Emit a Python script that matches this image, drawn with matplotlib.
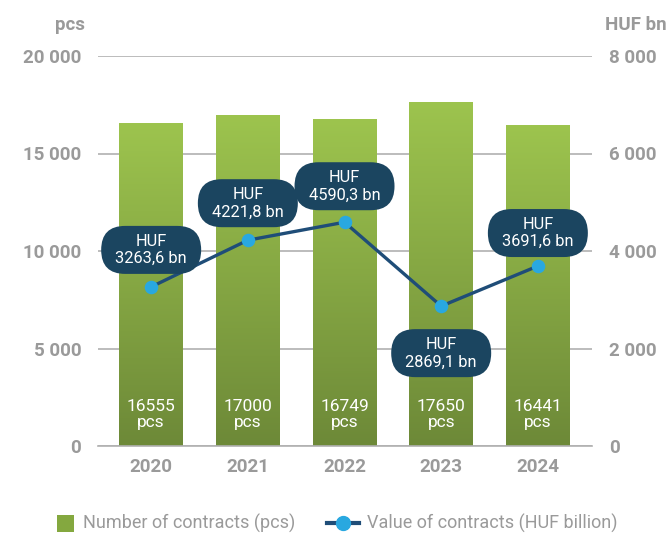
import matplotlib
matplotlib.use("Agg")
import matplotlib.pyplot as plt
import numpy as np
from matplotlib.colors import LinearSegmentedColormap
from matplotlib.patches import Rectangle, FancyBboxPatch
from matplotlib.lines import Line2D
from matplotlib.transforms import ScaledTranslation

plt.rcParams['font.family'] = ['Roboto', 'DejaVu Sans']

years = ["2020", "2021", "2022", "2023", "2024"]
contracts = [16555, 17000, 16749, 17650, 16441]
values = [3263.6, 4221.8, 4590.3, 2869.1, 3691.6]
value_labels = ["HUF\n3263,6 bn", "HUF\n4221,8 bn", "HUF\n4590,3 bn", "HUF\n2869,1 bn", "HUF\n3691,6 bn"]
left_ticks = [0, 5000, 10000, 15000, 20000]
left_ticklabels = ["0", "5 000", "10 000", "15 000", "20 000"]
right_ticks = [0, 2000, 4000, 6000, 8000]
right_ticklabels = ["0", "2 000", "4 000", "6 000", "8 000"]

gray = "#9a9a9a"
navy = "#1b4560"
line_col = "#1f4d78"
dot_col = "#29a8e0"

W, H = 667, 534
fig = plt.figure(figsize=(6.67, 5.34), dpi=100)
ax = fig.add_axes([98 / W, 88 / H, (592 - 98) / W, (446 - 56) / H])
ax2 = ax.twinx()

x = np.arange(len(years))
bw = 0.66

cmap = LinearSegmentedColormap.from_list("g", ["#6d8938", "#9dc44e"])
grad = np.linspace(0, 1, 256).reshape(-1, 1)
for xi, h in zip(x, contracts):
    im = ax.imshow(grad, extent=(xi - bw / 2, xi + bw / 2, 0, h), origin="lower",
                   cmap=cmap, aspect="auto", zorder=2)
    rect = Rectangle((xi - bw / 2, 0), bw, h, transform=ax.transData, facecolor="none", edgecolor="none")
    ax.add_patch(rect)
    im.set_clip_path(rect)
    ax.text(xi, 1600, f"{h}\npcs", ha="center", va="center", color="white",
            fontsize=12.5, linespacing=1.1, zorder=3)
ax.set_xlim(-0.55, 4.56)
ax.set_ylim(0, 20000)
ax2.set_ylim(0, 8000)

ax.set_yticks(left_ticks)
ax.set_yticklabels(left_ticklabels)
ax.grid(axis="y", color="#b0b0b0", linewidth=1.2, zorder=0)
ax.set_axisbelow(True)
ax.set_xticks(x)
ax.set_xticklabels(years)
for a in (ax, ax2):
    for s in a.spines.values():
        s.set_visible(False)
ax.spines["bottom"].set_visible(True)
ax.spines["bottom"].set_color("#b0b0b0")
ax.spines["bottom"].set_linewidth(1.2)
ax.tick_params(axis="y", length=0, labelsize=13.5, labelcolor=gray, pad=12)
ax.tick_params(axis="x", length=0, labelsize=13.5, labelcolor=gray, pad=9)
for t in ax.get_yticklabels() + ax.get_xticklabels():
    t.set_fontweight("bold")

ax2.set_yticks(right_ticks)
ax2.set_yticklabels(right_ticklabels)
ax2.tick_params(axis="y", length=0, labelsize=13.5, labelcolor=gray, pad=12)
for t in ax2.get_yticklabels():
    t.set_fontweight("bold")

ax2.plot(x, values, color=line_col, linewidth=2.4, zorder=4)
ax2.scatter(x, values, s=95, color=dot_col, zorder=5, linewidths=0)

# pill-shaped labels (offsets in pixels above the point; negative = below)
offsets = [37, 37, 36, -47, 33]
bw_px, bh_px = 100, 48
for xi, v, lab, off in zip(x, values, value_labels, offsets):
    tr = fig.dpi_scale_trans + ScaledTranslation(xi, v, ax2.transData)
    w_in, h_in = bw_px / 100, bh_px / 100
    patch = FancyBboxPatch((-w_in / 2, off / 100 - h_in / 2), w_in, h_in,
                           boxstyle=f"round,pad=0,rounding_size={h_in / 2}",
                           transform=tr, facecolor=navy, edgecolor="none", zorder=6)
    ax2.add_patch(patch)
    ax2.annotate(lab, xy=(xi, v), xytext=(0, off), textcoords="offset pixels",
                 ha="center", va="center", color="white", fontsize=11.8,
                 linespacing=1.2, zorder=7)

fig.text(85 / W, 1 - 25 / H, "pcs", ha="right", va="center", color=gray, fontsize=13.5, fontweight="bold")
fig.text(605 / W, 1 - 25 / H, "HUF bn", ha="left", va="center", color=gray, fontsize=13.5, fontweight="bold")

# legend drawn manually
ly = 1 - 523 / H
fig.patches.append(Rectangle((57 / W, ly - 8.5 / H), 17 / W, 17 / H, transform=fig.transFigure,
                             facecolor="#84a83f", edgecolor="none"))
fig.text(83 / W, ly, "Number of contracts (pcs)", ha="left", va="center", color=gray, fontsize=13)
fig.lines.append(Line2D([327 / W, 359 / W], [ly, ly], transform=fig.transFigure,
                        color=line_col, linewidth=3))
fig.lines.append(Line2D([343 / W], [ly], transform=fig.transFigure, marker="o", markersize=10,
                        markerfacecolor=dot_col, markeredgecolor=dot_col, linestyle="none"))
fig.text(367 / W, ly, "Value of contracts (HUF billion)", ha="left", va="center", color=gray, fontsize=13)

fig.savefig("out.png", dpi=100)
